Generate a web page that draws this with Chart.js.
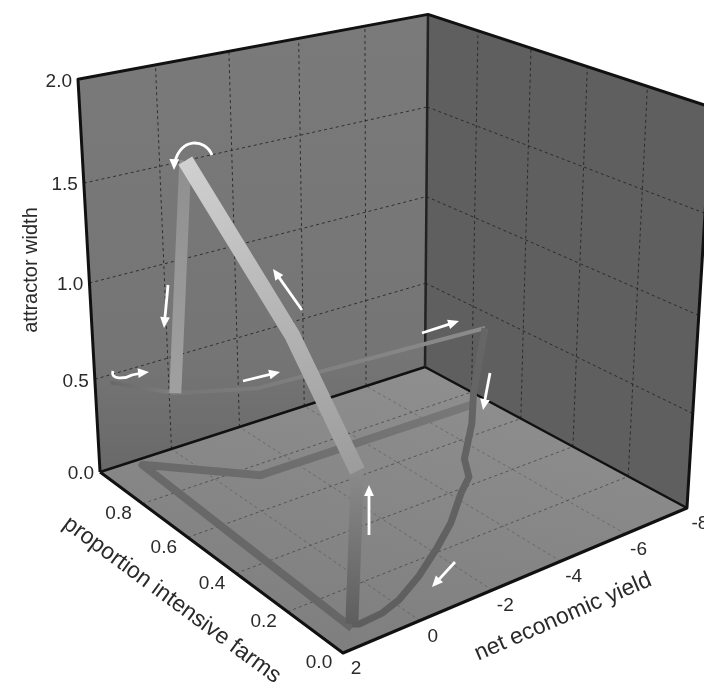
<!DOCTYPE html>
<html>
<head>
<meta charset="utf-8">
<style>
  html, body { margin: 0; padding: 0; background: #fff; }
  #wrap { width: 704px; height: 690px; }
  canvas { filter: blur(0.45px); }
</style>
<script src="https://cdn.jsdelivr.net/npm/chart.js@4/dist/chart.umd.min.js"></script>
</head>
<body>
<div id="wrap"><canvas id="chart" width="704" height="690"></canvas></div>
<script>
// --- axis ticks ---
const yieldTicks = [2, 0, -2, -4, -6, -8];
const propTicks = [0.0, 0.2, 0.4, 0.6, 0.8];
const widthTicks = [0.0, 0.5, 1.0, 1.5, 2.0];

// --- trajectory legs (yield, proportion, width) ---
const tailYield = [1.7, 1.0];
const tailProp = [0.98, 0.80];
const tailWidth = [0.48, 0.52];

const riseYield = [1.0, 1.04];
const riseProp = [0.80, 0.71];
const riseWidth = [0.52, 1.73];

const fallYield = [1.04, 1.22, 1.1];
const fallProp = [0.71, 0.28, 0.07];
const fallWidth = [1.73, 1.2, 0.73];

const dropYield = [1.1, 1.3];
const dropProp = [0.07, 0.065];
const dropWidth = [0.73, 0.02];

const crossYield = [1.0, -0.97, -8];
const crossProp = [0.80, 0.75, 0.75];
const crossWidth = [0.52, 0.47, 0.41];

const backYield = [-8, -7.9, -6.69, -5.3, -4.79, -4.14, -3.01, -2.04, -0.98, -0.06, 0.53, 1.17, 1.3];
const backProp = [0.75, 0.78, 0.64, 0.50, 0.42, 0.37, 0.27, 0.20, 0.13, 0.08, 0.06, 0.055, 0.065];
const backWidth = [0.41, 0.02, 0.02, 0.02, 0.02, 0.02, 0.02, 0.02, 0.02, 0.02, 0.02, 0.02, 0.02];

// shadow on the floor
const shadowYield = [1.3, 1.0, -0.97, -7.55];
const shadowProp = [0.065, 0.97, 0.75, 0.74];

// perspective camera of the box
function project(y, p, z) {
    const u = (2 - y) / 10, v = p, h = z / 2;
    const w = 0.15 * u + 0.1794 * v - 0.0857 * h + 1;
    return {
        x: (447 * u - 225 * v - 32.7 * h + 343) / w,
        y: (-68.8 * u - 96.3 * v - 470 * h + 653) / w
    };
}

function zip(ys, ps, zs) {
    return ys.map((y, i) => project(y, ps[i], zs ? zs[i] : 0));
}

const datasets = [];
function addLine(data, color, width, extra = {}) {
    datasets.push({
        data, borderColor: color, borderWidth: width, showLine: true, pointRadius: 0,
        fill: false, tension: 0, borderCapStyle: 'butt', borderJoinStyle: 'round',
        order: -datasets.length, ...extra
    });
}

// gradient along a leg (the x/y scales map 1:1 on the canvas)
function legGradient(from, to) {
    return (ctx) => {
        const pts = ctx.dataset.data;
        const a = pts[0], b = pts[pts.length - 1];
        const g = ctx.chart.ctx.createLinearGradient(a.x, a.y, b.x, b.y);
        g.addColorStop(0, from);
        g.addColorStop(1, to);
        return g;
    };
}

// --- grid ---
const gridColor = 'rgba(30,30,30,0.8)';
const gridDash = { borderDash: [3, 3] };
const floorColor = 'rgba(50,50,50,0.6)';
const floorFaint = 'rgba(50,50,50,0.35)';
yieldTicks.slice(1, 5).forEach(t => {
    addLine(zip([t, t], [1, 1], [0, 2]), gridColor, 1, gridDash);
    addLine(zip([t, t], [0, 1]), floorFaint, 1, gridDash);
});
propTicks.slice(1).forEach(t => {
    addLine(zip([-8, -8], [t, t], [0, 2]), gridColor, 1, gridDash);
    addLine(zip([2, -8], [t, t]), floorColor, 1, gridDash);
});
widthTicks.slice(1, 4).forEach(t => {
    addLine(zip([2, -8], [1, 1], [t, t]), gridColor, 1, gridDash);
    addLine(zip([-8, -8], [1, 0], [t, t]), gridColor, 1, gridDash);
});

// --- box edges ---
addLine(zip([2, -8, -8], [1, 1, 0], [0, 0, 0]), '#111', 2.5);
addLine(zip([-8, -8], [1, 1], [0, 2]), '#222', 2.5);

// --- trajectory ---
addLine(zip(shadowYield, shadowProp), legGradient('#666666', '#787878'), 8);
addLine(zip(tailYield, tailProp, tailWidth), legGradient('#686868', '#7e7e7e'), 4);
addLine(zip(crossYield, crossProp, crossWidth), legGradient('#767676', '#8c8c8c'), 4);
addLine(zip(backYield, backProp, backWidth), legGradient('#666666', '#5e5e5e'), 7);
addLine(zip(riseYield, riseProp, riseWidth), legGradient('#a0a0a0', '#8f8f8f'), 12);
addLine(zip(dropYield, dropProp, dropWidth), legGradient('#8a8a8a', '#5e5e5e'), 13);
addLine(zip(fallYield, fallProp, fallWidth), legGradient('#d0d0d0', '#9c9c9c'), 16);

// front edges drawn last
addLine(zip([2, 2, -8, -8], [1, 0, 0, 0], [0, 0, 0, 2]), '#111', 3);
addLine(zip([2, 2, -8, -8], [1, 1, 1, 0], [0, 2, 2, 2]), '#111', 3);

// --- walls, labels and arrows ---
const boxPlugin = {
    id: 'box',
    beforeDatasetsDraw(chart) {
        const c = chart.ctx, sx = chart.scales.x, sy = chart.scales.y;
        const px = (y, p, z) => {
            const q = project(y, p, z);
            return [sx.getPixelForValue(q.x), sy.getPixelForValue(q.y)];
        };
        const poly = (corners, fill) => {
            c.beginPath();
            corners.forEach((k, i) => {
                const q = px(k[0], k[1], k[2]);
                if (i === 0) c.moveTo(q[0], q[1]); else c.lineTo(q[0], q[1]);
            });
            c.closePath();
            c.fillStyle = fill;
            c.fill();
        };
        let g = c.createLinearGradient(0, 20, 0, 470);
        g.addColorStop(0, '#7a7a7a');
        g.addColorStop(0.75, '#757575');
        g.addColorStop(1, '#696969');
        poly([[2, 1, 0], [-8, 1, 0], [-8, 1, 2], [2, 1, 2]], g);
        poly([[-8, 1, 0], [-8, 0, 0], [-8, 0, 2], [-8, 1, 2]], '#5f5f5f');
        g = c.createLinearGradient(350, 650, 400, 370);
        g.addColorStop(0, '#7f7f7f');
        g.addColorStop(1, '#8e8e8e');
        poly([[2, 0, 0], [-8, 0, 0], [-8, 1, 0], [2, 1, 0]], g);
    },
    afterDatasetsDraw(chart) {
        const c = chart.ctx, sx = chart.scales.x, sy = chart.scales.y;
        const at = (y, p, z) => {
            const q = project(y, p, z);
            return [sx.getPixelForValue(q.x), sy.getPixelForValue(q.y)];
        };
        c.save();
        c.fillStyle = '#2a2a2a';
        c.font = '19px "Liberation Sans"';
        c.textBaseline = 'middle';
        c.textAlign = 'right';
        widthTicks.forEach(t => {
            const q = at(2, 1, t);
            c.fillText(t.toFixed(1), q[0] - 6, q[1] + 2);
        });
        c.textAlign = 'center';
        propTicks.forEach(t => {
            const q = at(2, t, 0);
            c.fillText(t.toFixed(1), q[0] - 24, q[1] + 10);
        });
        yieldTicks.forEach(t => {
            const q = at(t, 0, 0);
            c.fillText(String(t), q[0] + 13, q[1] + 16);
        });
        const title = (text, x, y, deg, size) => {
            c.save();
            c.font = size + 'px "Liberation Sans"';
            c.translate(x, y);
            c.rotate(deg * Math.PI / 180);
            c.fillText(text, 0, 0);
            c.restore();
        };
        title('attractor width', 31, 270, -90, 20);
        title('proportion intensive farms', 172, 600, 36.5, 23);
        title('net economic yield', 563, 617, -23.5, 23);

        // white direction arrows
        const head = (x, y, ang) => {
            c.beginPath();
            c.moveTo(x, y);
            c.lineTo(x - 12 * Math.cos(ang - 0.42), y - 12 * Math.sin(ang - 0.42));
            c.lineTo(x - 12 * Math.cos(ang + 0.42), y - 12 * Math.sin(ang + 0.42));
            c.closePath();
            c.fill();
        };
        c.strokeStyle = '#fff';
        c.fillStyle = '#fff';
        c.lineWidth = 2.8;
        const straight = (x0, y0, x1, y1) => {
            const ang = Math.atan2(y1 - y0, x1 - x0);
            c.beginPath();
            c.moveTo(x0, y0);
            c.lineTo(x1 - 6 * Math.cos(ang), y1 - 6 * Math.sin(ang));
            c.stroke();
            head(x1, y1, ang);
        };
        straight(168, 285, 164, 328);
        straight(243, 381, 280, 372);
        straight(302, 310, 273, 269);
        straight(422, 333, 459, 321);
        straight(490, 373, 483, 410);
        straight(369, 535, 369, 485);
        straight(455, 562, 432, 587);
        // curled ones
        c.beginPath();
        c.moveTo(113, 371);
        c.bezierCurveTo(110, 380, 125, 379, 132, 375);
        c.lineTo(142, 373);
        c.stroke();
        head(149, 372, -0.1);
        c.beginPath();
        c.moveTo(212, 155);
        c.bezierCurveTo(205, 138, 180, 138, 175, 162);
        c.stroke();
        head(174, 170, 1.6);
        c.restore();
    }
};

new Chart(document.getElementById('chart'), {
    type: 'scatter',
    data: { datasets },
    plugins: [boxPlugin],
    options: {
        responsive: false,
        animation: false,
        layout: { padding: 0 },
        plugins: { legend: { display: false }, tooltip: { enabled: false } },
        scales: {
            x: { type: 'linear', min: 0, max: 704, display: false },
            y: { type: 'linear', min: 0, max: 690, reverse: true, display: false }
        }
    }
});
</script>
</body>
</html>
